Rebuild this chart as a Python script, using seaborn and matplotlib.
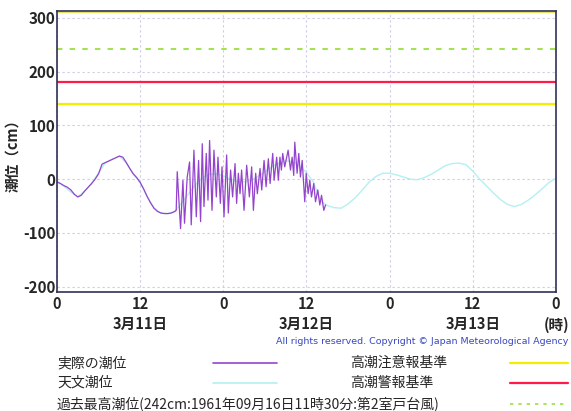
import numpy as np
import pandas as pd
import matplotlib
matplotlib.use("Agg")
import matplotlib.pyplot as plt
from matplotlib.lines import Line2D
import seaborn as sns

# ----------------------------------------------------
# DATA (hours from 3/11 00:00, tide level in cm)
# ----------------------------------------------------
astro_hours = list(range(0, 73))
astro_level = [-5, -13, -24, -33, -22, -8, 12, 31, 37, 43, 30, 10, -6, -32, -54, -63,
               -64, -60, -44, -27, -10, 3, 9, 10, 6, 0, -4, -5, -2, 5, 14, 23, 30, 34,
               33, 25, 12, -5, -40, -49, -53, -54, -46, -35, -21, -6, 5, 11, 11, 8, 4,
               0, -1, 3, 9, 17, 25, 29, 30, 27, 15, 0, -13, -26, -38, -47, -51, -47,
               -39, -29, -18, -6, 2]

obs_hours = [0.0, 0.5, 1.0, 1.5, 2.0, 2.5, 3.0, 3.5, 4.0, 4.5, 5.0, 5.5, 6.0, 6.5, 7.0,
             7.5, 8.0, 8.5, 9.0, 9.5, 10.0, 10.5, 11.0, 11.5, 12.0, 12.5, 13.0, 13.5, 14.0,
             14.5, 15.0, 15.5, 16.0, 16.5, 17.0, 17.2,
             17.35, 17.83, 18.17, 18.40, 18.79, 19.13, 19.37, 19.76, 20.10, 20.43, 20.72,
             20.96, 21.21, 21.54, 21.79, 22.02, 22.37, 22.65, 22.99, 23.23, 23.57, 23.81,
             24.10, 24.48, 24.72, 25.05, 25.34, 25.69, 25.92, 26.17, 26.41, 26.64, 26.99,
             27.37, 27.76, 28.09, 28.34, 28.67, 28.91, 29.30, 29.54, 29.88, 30.17, 30.50,
             30.75, 31.13, 31.33, 31.70, 31.94, 32.17, 32.38, 32.57, 32.86, 33.35, 33.69,
             33.93, 34.16, 34.31, 34.65, 34.89, 35.13, 35.38, 35.75, 35.96, 36.24, 36.48,
             36.72, 37.05, 37.30, 37.63, 37.92, 38.17, 38.50, 38.75]
obs_level = [-5, -8, -12, -15, -20, -28, -33, -30, -22, -15, -8, 0, 10, 28, 31,
             34, 37, 40, 43, 41, 31, 20, 10, 3, -6, -18, -32, -44, -54,
             -60, -63, -64, -64, -63, -60, -58,
             14, -92, -2, -82, 4, 32, -85, 54, -70, 35, -79,
             66, -51, 48, -39, 72, -58, 54, -33, 41, -45, 23,
             -70, 45, -63, 17, -33, 29, -45, 11, -27, 17, -58,
             26, -33, 23, -58, 11, -27, 20, -20, 35, -14, 38,
             -8, 48, -2, 41, -2, 41, 17, 48, 23, 54, 17,
             41, 7, 69, 11, 48, 4, 35, -42, 11, -27, -2,
             -33, -8, -42, -20, -48, -30, -58, -48]

caution_level = 140    # 高潮注意報基準
warning_level = 181    # 高潮警報基準
record_level = 242     # 過去最高潮位

xtick_hours = [0, 12, 24, 36, 48, 60, 72]
xtick_labels = ["0", "12", "0", "12", "0", "12", "0"]
ytick_values = [-200, -100, 0, 100, 200, 300]
date_hours = [12, 36, 60]
date_labels = ["3月11日", "3月12日", "3月13日"]

obs_df = pd.DataFrame({"hour": obs_hours, "level": obs_level})
astro_df = pd.DataFrame({"hour": astro_hours, "level": astro_level})

# ----------------------------------------------------
# PLOT
# ----------------------------------------------------
sns.set_style("white")
plt.rcParams['font.family'] = ['Noto Sans CJK JP', 'DejaVu Sans']

fig = plt.figure(figsize=(5.71, 4.11), dpi=100)
ax = fig.add_axes([0.0998, 0.2895, 0.8739, 0.6837])

grid_kw = dict(color='#cdcde8', linewidth=0.8, linestyle=(0, (2, 2.5)))
ax.grid(True, **grid_kw)
ax.set_axisbelow(True)

ax.axhline(caution_level, color='#f2ee00', linewidth=1.6)
ax.axhline(warning_level, color='#ff1a4a', linewidth=1.6)
ax.axhline(record_level, color='#9ae040', linewidth=1.3, linestyle=(0, (3, 4)))
ax.axhline(311, color='#e8e060', linewidth=1.0)

sns.lineplot(data=astro_df, x='hour', y='level', ax=ax, color='#b4f0f2', linewidth=1.0)
sns.lineplot(data=obs_df, x='hour', y='level', ax=ax, color='#9444cc', linewidth=0.9)

ax.set_xlim(0, 72)
ax.set_ylim(-210, 313)
ax.set_xticks(xtick_hours)
ax.set_xticklabels(xtick_labels, fontweight='bold', fontsize=10.5)
ax.set_xticks(np.arange(0, 73, 3), minor=True)
ax.set_yticks(ytick_values)
ax.set_yticklabels([str(v) for v in ytick_values], fontweight='bold', fontsize=11)
ax.tick_params(axis='x', which='both', direction='in', length=4, color='#404060', pad=3)
ax.tick_params(axis='y', length=0, pad=1)
ax.set_xlabel("")
ax.set_ylabel("潮位（cm）", fontsize=10.5, fontweight='bold', labelpad=2)
for side in ax.spines.values():
    side.set_color('#303058')
    side.set_linewidth(1.2)

for h, lab in zip(date_hours, date_labels):
    ax.text(h, -0.115, lab, transform=ax.get_xaxis_transform(), ha='center', va='center',
            fontsize=10.5, fontweight='bold')
fig.text(569 / 571, 1 - 325 / 411, "(時)", ha='right', va='center',
         fontsize=10.5, fontweight='bold')

fig.text(568 / 571, 1 - 341 / 411, "All rights reserved. Copyright © Japan Meteorological Agency",
         ha='right', va='center', fontsize=6.8, color='#3848c0', family='DejaVu Sans')

# legend rows
rows = [363, 383, 404]
fig.text(57 / 571, 1 - rows[0] / 411, "実際の潮位", fontsize=10, va='center')
fig.text(57 / 571, 1 - rows[1] / 411, "天文潮位", fontsize=10, va='center')
fig.text(57 / 571, 1 - rows[2] / 411, "過去最高潮位(242cm:1961年09月16日11時30分:第2室戸台風)",
         fontsize=10, va='center')
fig.text(350 / 571, 1 - rows[0] / 411, "高潮注意報基準", fontsize=10, va='center')
fig.text(350 / 571, 1 - rows[1] / 411, "高潮警報基準", fontsize=10, va='center')

def legend_line(x0, x1, y, **kw):
    fig.add_artist(Line2D([x0 / 571, x1 / 571], [1 - y / 411, 1 - y / 411],
                          transform=fig.transFigure, **kw))

legend_line(213, 277, rows[0], color='#9444cc', linewidth=1.2)
legend_line(213, 277, rows[1], color='#b4f0f2', linewidth=1.2)
legend_line(510, 568, rows[0], color='#f2ee00', linewidth=1.6)
legend_line(510, 568, rows[1], color='#ff1a4a', linewidth=1.6)
legend_line(510, 568, rows[2], color='#9ae040', linewidth=1.2, linestyle=(0, (2, 3)))

fig.savefig('out.png', dpi=100)
